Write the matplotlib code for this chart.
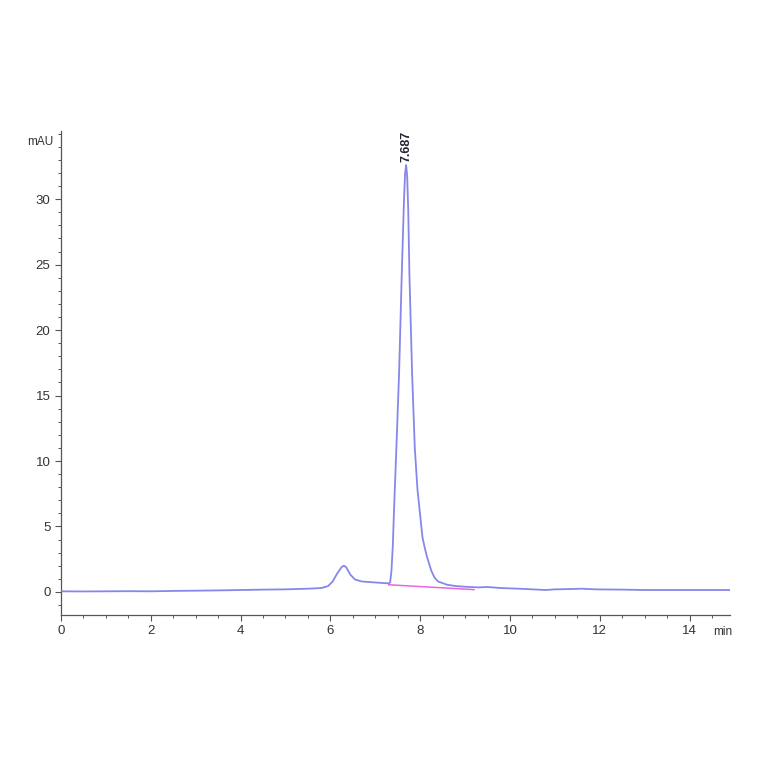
import matplotlib
matplotlib.use("Agg")
import matplotlib.pyplot as plt
from matplotlib.ticker import MultipleLocator, FixedLocator

# ── Chromatogram trace ───────────────────────────────────────────────────────
time_min = [0.0, 0.5, 1.0, 1.5, 2.0, 2.5, 3.0, 3.5, 4.0, 4.5, 5.0, 5.5, 5.8,
            5.95, 6.05, 6.15, 6.25, 6.3, 6.35, 6.45, 6.55, 6.7, 6.9, 7.1,
            7.3, 7.33, 7.36, 7.39, 7.42, 7.47, 7.53, 7.59, 7.64, 7.665,
            7.687, 7.71, 7.735, 7.76, 7.82, 7.88, 7.94, 7.98, 8.05, 8.1,
            8.15, 8.25, 8.32, 8.4, 8.6, 8.8, 9.0, 9.3, 9.5, 9.8, 10.2, 10.5,
            10.8, 11.0, 11.3, 11.6, 11.9, 12.5, 13.0, 14.0, 14.9]
signal_mau = [0.05, 0.04, 0.05, 0.06, 0.05, 0.08, 0.10, 0.12, 0.15, 0.18,
              0.20, 0.25, 0.30, 0.45, 0.80, 1.40, 1.90, 2.00, 1.90, 1.30,
              0.95, 0.80, 0.75, 0.70, 0.66, 0.72, 1.6, 3.5, 6.5, 11.0, 16.7,
              24.3, 30.0, 32.0, 32.6, 31.8, 29.0, 24.3, 16.7, 11.0, 7.8, 6.5,
              4.2, 3.4, 2.7, 1.6, 1.1, 0.8, 0.55, 0.45, 0.40, 0.35, 0.38,
              0.30, 0.25, 0.20, 0.15, 0.20, 0.22, 0.25, 0.20, 0.18, 0.15,
              0.15, 0.15]

# integration baseline under main peak
base_t = [7.30, 9.2]
base_y = [0.55, 0.18]

peak_rt = 7.687
peak_h = 32.6

LINE = "#7272e6"
BASE = "#e040d8"
TX = "#333333"

fig = plt.figure(figsize=(7.64, 7.64), dpi=100, facecolor="white")
ax = fig.add_axes([0.0798, 0.195, 0.8757, 0.6335])

ax.plot(time_min, signal_mau, color=LINE, lw=1.3, alpha=0.85, zorder=3)
ax.plot(base_t, base_y, color=BASE, lw=1.1, alpha=0.8, zorder=2)

ax.text(peak_rt, peak_h + 0.2, f"{peak_rt:.3f}", rotation=90, ha="center",
        va="bottom", fontsize=9, fontweight="bold", color="#222233",
        family="Liberation Sans")

ax.set_xlim(0, 14.9)
ax.set_ylim(-1.76, 35.2)

ax.xaxis.set_major_locator(MultipleLocator(2))
ax.xaxis.set_minor_locator(MultipleLocator(0.5))
ax.yaxis.set_major_locator(FixedLocator([0, 5, 10, 15, 20, 25, 30]))
ax.yaxis.set_minor_locator(MultipleLocator(1))

for s in ["top", "right"]:
    ax.spines[s].set_visible(False)
for s in ["bottom", "left"]:
    ax.spines[s].set_color("#555555")
    ax.spines[s].set_linewidth(0.9)

ax.tick_params(which="major", length=4, width=0.8, colors="#555555",
               labelcolor=TX, labelsize=9.5)
ax.tick_params(which="minor", length=2.5, width=0.7, colors="#555555")
for l in ax.get_xticklabels() + ax.get_yticklabels():
    l.set_family("Liberation Sans")

ax.text(-0.012, 0.977, "mAU", transform=ax.transAxes, ha="right", va="center",
        fontsize=8.5, color=TX, family="Liberation Sans")
ax.text(1.004, -0.036, "min", transform=ax.transAxes, ha="right", va="center",
        fontsize=8.5, color=TX, family="Liberation Sans")

fig.savefig("out.png", dpi=100, facecolor="white")
